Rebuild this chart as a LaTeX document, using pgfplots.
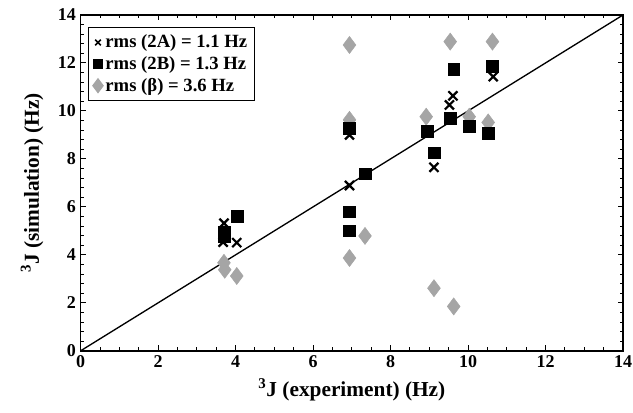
\documentclass[border=0pt]{standalone}
\usepackage{fontspec}
\setmainfont{Liberation Serif}
\usepackage{pgfplots}
\pgfplotsset{compat=1.18}
\definecolor{cBeta}{RGB}{165,165,165}

\begin{document}
\begin{tikzpicture}
\begin{axis}[
  name=ax,
  scale only axis, width=407pt, height=252pt,
  xmin=0, xmax=14, ymin=0, ymax=14,
  xtick={0,2,...,14}, ytick={0,2,...,14},
  minor x tick num=3, minor y tick num=4,
  tick align=inside,
  major tick length=4pt, minor tick length=2.5pt,
  xtick pos=both, ytick pos=both,
  axis line style={line width=1.1pt}, tick style={line width=0.7pt, black},
  /pgf/number format/assume math mode=true,
  tick label style={font=\bfseries\fontsize{13.5}{16}\selectfont},
  label style={font=\bfseries\fontsize{16}{18}\selectfont},
  xlabel={\textsuperscript{3}J (experiment) (Hz)},
  ylabel={\textsuperscript{3}J (simulation) (Hz)},
  xlabel style={yshift=-1pt},
  ylabel style={yshift=4pt},
  legend style={at={(0.013,0.965)}, anchor=north west, draw=black, line width=1.3pt,
    font=\bfseries\fontsize{14}{16}\selectfont, inner sep=3.5pt, row sep=1pt},
  legend cell align=left,
  reverse legend,
]
\addplot[black, line width=1pt, forget plot] coordinates {(0,0) (14,14)};
% beta
\addplot[only marks, mark=diamond*, mark size=6.4pt, color=cBeta,
  legend image post style={mark size=4.8pt}] coordinates {
  (3.70,3.67) (3.72,3.38) (4.03,3.12)
  (6.94,12.75) (6.94,9.63) (7.34,4.79) (6.94,3.87)
  (8.92,9.76) (9.12,2.61) (9.54,12.89) (9.63,1.85)
  (10.03,9.76) (10.52,9.52) (10.63,12.89)};
\addlegendentry{rms (β) = 3.6 Hz}
% 2B
\addplot[only marks, mark=square*, mark size=4.4pt, color=black,
  legend image post style={mark size=3.2pt}] coordinates {
  (3.70,4.95) (3.70,4.75) (4.05,5.62)
  (6.94,9.29) (7.34,7.38) (6.94,5.80) (6.94,5.01)
  (8.95,9.14) (9.12,8.26) (9.54,9.70) (9.63,11.75)
  (10.03,9.35) (10.52,9.07) (10.63,11.85)};
\addlegendentry{rms (2B) = 1.3 Hz}
% 2A
\addplot[only marks, mark=x, mark size=4.8pt, color=black, line width=1.7pt,
  legend image post style={mark size=3pt, line width=1.2pt}] coordinates {
  (3.70,5.32) (3.68,4.53) (4.03,4.51)
  (6.94,9.00) (6.94,6.89)
  (9.12,7.65) (9.52,10.25) (9.61,10.63) (10.65,11.43)};
\addlegendentry{rms (2A) = 1.1 Hz}
\end{axis}
\pgfresetboundingbox
\useasboundingbox ([shift={(-60.5pt,-46.5pt)}]ax.south west) rectangle ([shift={(7.5pt,11.25pt)}]ax.north east);
\end{tikzpicture}
\end{document}
